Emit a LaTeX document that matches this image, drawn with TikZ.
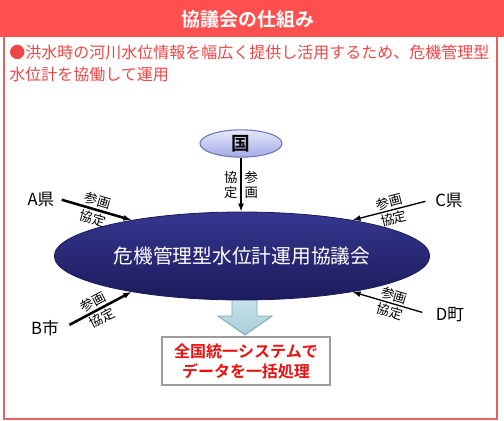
\documentclass[tikz,border=0pt]{standalone}
\usepackage{fontspec}
\setmainfont{Noto Sans CJK JP}[BoldFont={Noto Sans CJK JP Bold}]
\usetikzlibrary{arrows.meta,positioning,shapes.geometric}
\definecolor{wlRed}{HTML}{FF5050}
\definecolor{wlFrame}{HTML}{E06464}
\definecolor{wlText}{HTML}{EE4646}
\definecolor{wlNavyTop}{HTML}{36368F}
\definecolor{wlNavyBot}{HTML}{1B1B5C}
\definecolor{wlLavTop}{HTML}{E6E8FB}
\definecolor{wlLavBot}{HTML}{A4AAE4}
\definecolor{wlLavLine}{HTML}{6E75B6}
\definecolor{wlCyanTop}{HTML}{CBE6EC}
\definecolor{wlCyanBot}{HTML}{A6CDD8}
\definecolor{wlCyanLine}{HTML}{86A6B2}
\definecolor{wlGray}{HTML}{9C9C9C}
\definecolor{wlAlert}{HTML}{EE1010}
\tikzset{
  every picture/.style={font=\fontsize{12.5}{15}\selectfont, text=black},
  wl council/.style={ellipse, draw=wlNavyBot, line width=0.6pt,
    top color=wlNavyTop, bottom color=wlNavyBot, text=white,
    minimum width=217.5pt, minimum height=66pt,
    font=\fontsize{14.8}{17}\selectfont},
  wl nation/.style={ellipse, draw=wlLavLine, line width=0.8pt,
    top color=wlLavTop, bottom color=wlLavBot,
    minimum width=61.5pt, minimum height=20.5pt, inner sep=0pt,
    font=\bfseries\fontsize{14}{16}\selectfont},
  wl result/.style={draw=wlGray, line width=0.8pt, fill=white, align=center,
    minimum width=126pt, minimum height=36pt, text=wlAlert,
    font=\bfseries\fontsize{12}{15}\selectfont},
  wl block/.style={draw=wlCyanLine, line width=0.7pt,
    top color=wlCyanTop, bottom color=wlCyanBot},
  wl arrow/.style={-{Latex[length=6pt,width=4.5pt]}, draw=black, line width=1.9pt},
  wl arrow thin/.style={-{Latex[length=6pt,width=4.5pt]}, draw=black, line width=1pt},
  wl tag/.style={font=\fontsize{10}{11}\selectfont, inner sep=1.2pt}
}

\begin{document}
\begin{tikzpicture}[x=0.75pt,y=-0.75pt]
  \useasboundingbox (0,0) rectangle (504,421);
  % header and frame
  \draw[wlFrame, line width=1.2pt] (4,30) rectangle (497,419);
  \fill[wlRed] (0,0) rectangle (504,37);
  \node[text=white, font=\bfseries\fontsize{14.2}{16}\selectfont] (title) at (248,19) {協議会の仕組み};
  \node[anchor=north west, inner sep=0pt, align=left, text=wlText,
    font=\fontsize{12}{16.5}\selectfont] (lead) at (9,45)
    {●洪水時の河川水位情報を幅広く提供し活用するため、危機管理型\\水位計を協働して運用};

  % block arrow behind the council
  \draw[wl block] (232,295) -- (257,295) -- (257,316) -- (272,316) -- (245,335)
    -- (218,316) -- (232,316) -- cycle;

  \node[wl council] (council) at (242,256) {危機管理型水位計運用協議会};
  \node[wl nation] (kuni) at (241,143.5) {国};
  \node[wl result] (result) at (246,361) {全国統一システムで\\データを一括処理};

  \node (prefA) at (41,199) {A県};
  \node (prefC) at (449,200) {C県};
  \node (cityB) at (45,328) {B市};
  \node (townD) at (450,315) {D町};

  % members to council
  \draw[wl arrow thin] (kuni) -- (kuni |- council.north)
    node[midway, left=1pt, wl tag, align=center] {協\\定}
    node[midway, right=1pt, wl tag, align=center] {参\\画};
  \draw[wl arrow, shorten <=2pt] (prefA.east) -- (council.162)
    node[midway, above, sloped, wl tag] {参画}
    node[midway, below, sloped, wl tag] {協定};
  \draw[wl arrow, shorten <=5pt] (cityB.east) -- (council.198)
    node[midway, above, sloped, wl tag] {参画}
    node[midway, below, sloped, wl tag] {協定};
  \draw[wl arrow thin, shorten <=4pt] (prefC.west) -- (council.18)
    node[midway, above, sloped, wl tag] {参画}
    node[midway, below, sloped, wl tag] {協定};
  \draw[wl arrow thin, shorten <=7pt] (townD.west) -- (council.342)
    node[midway, above, sloped, wl tag] {参画}
    node[midway, below, sloped, wl tag] {協定};
\end{tikzpicture}
\end{document}
